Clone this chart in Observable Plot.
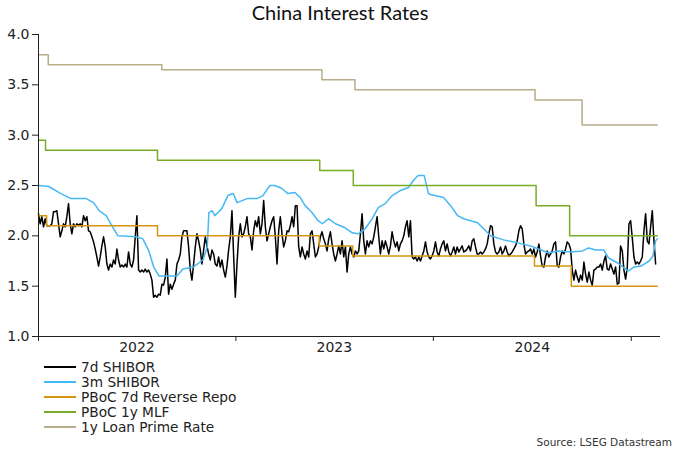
<!DOCTYPE html>
<html><head><meta charset="utf-8">
<script src="https://cdn.jsdelivr.net/npm/d3@7"></script>
<script src="https://cdn.jsdelivr.net/npm/@observablehq/plot@0.6"></script>
<style>
body{margin:0;background:#fff;width:680px;height:453px;overflow:hidden;font-family:"DejaVu Sans",sans-serif;color:#222;position:relative}
#title{height:24px;line-height:24px;text-align:center;font-family:Lato,sans-serif;font-size:20px;color:#111}
#chart{height:336px}
#legend{position:absolute;left:44px;top:360px;font-size:13.7px}
.row{height:14.8px;display:flex;align-items:center;white-space:nowrap}
.sw{width:32px;height:2px;margin-right:5px}
#source{position:absolute;right:8px;top:436px;font-size:10.5px;color:#333}
</style></head>
<body>
<div id="title">China Interest Rates</div>
<div id="chart"></div>
<div id="legend"></div>
<div id="source">Source: LSEG Datastream</div>
<script>
// ---- Series names and colours ----
const seriesNames = ["7d SHIBOR", "3m SHIBOR", "PBoC 7d Reverse Repo", "PBoC 1y MLF", "1y Loan Prime Rate"];
const seriesColors = ["#000000", "#45b8f5", "#d4960f", "#7aab24", "#b8ad8a"];

// ---- 7d SHIBOR: regularly spaced observations from start to end date ----
const shibor7dStart = "2022-01-01";
const shibor7dEnd = "2025-02-15";
const shibor7d = [
2.22,2.12,2.19,2.09,2.17,2.10,2.10,2.10,2.12,2.24,
2.24,2.25,2.12,1.99,2.05,2.12,2.09,2.19,2.32,2.12,
2.02,2.12,2.09,2.12,2.10,2.12,2.09,2.20,2.15,2.19,
2.05,2.04,1.99,1.94,1.87,1.79,1.70,1.79,1.90,1.99,
1.89,1.72,1.66,1.72,1.69,1.76,1.72,1.87,1.76,1.69,
1.71,1.69,1.72,1.69,1.84,1.72,1.69,1.76,1.99,2.20,
1.66,1.64,1.66,1.64,1.67,1.64,1.66,1.62,1.56,1.39,
1.41,1.39,1.42,1.41,1.52,1.51,1.59,
1.77,1.42,1.52,1.47,1.52,1.56,1.72,1.76,1.82,1.99,
2.05,2.05,2.05,1.89,1.66,1.56,1.72,1.89,2.02,1.95,
1.86,1.72,1.86,1.99,1.90,1.82,1.76,1.86,1.82,1.72,
1.70,1.79,1.69,1.76,1.66,1.59,1.70,1.86,1.99,2.25,
1.80,1.39,1.72,1.99,2.12,1.99,2.02,2.09,2.19,2.02,
1.99,1.86,2.05,2.15,2.09,2.19,2.02,2.12,2.35,2.09,
1.95,2.02,2.09,2.15,2.19,1.99,1.72,2.05,2.19,2.02,
1.89,1.95,2.05,
2.04,2.10,2.19,2.09,2.30,2.30,1.89,1.79,1.89,1.82,
1.77,1.85,1.79,2.02,2.05,1.92,1.79,1.82,1.89,1.99,
2.04,1.97,1.92,1.85,1.97,2.04,1.92,1.82,1.75,1.82,
1.90,1.82,1.95,1.79,1.89,1.64,1.82,1.89,1.82,1.79,
1.85,1.82,1.85,2.02,2.22,1.95,1.82,1.95,1.89,1.95,
1.92,1.99,2.09,2.19,1.99,1.82,1.95,1.87,1.95,1.89,
1.82,1.90,2.04,1.95,1.89,1.94,1.85,1.92,1.95,2.00,
2.09,2.15,1.99,
2.15,1.79,1.77,1.79,1.75,1.79,1.75,1.80,1.85,1.94,
1.84,1.79,1.77,1.80,1.85,1.94,1.84,1.80,1.87,1.92,
1.95,1.85,1.92,1.84,1.80,1.84,1.89,1.82,1.89,1.84,
1.87,1.90,1.84,1.85,1.87,1.90,1.85,1.95,1.97,1.89,
1.82,1.82,1.84,1.82,1.84,1.87,1.92,2.02,2.10,2.09,
1.92,1.84,1.82,1.84,1.89,1.82,1.85,1.90,1.84,1.80,
1.82,1.84,1.87,1.90,1.95,2.05,2.10,2.07,1.92,1.82,
1.84,1.85,
1.87,1.82,1.87,1.79,1.84,1.92,1.80,1.70,1.69,1.79,
1.85,1.79,1.82,1.85,1.92,1.94,1.70,1.69,1.79,1.85,
1.82,1.87,1.94,1.92,1.87,1.66,1.56,1.66,1.59,1.54,
1.61,1.56,1.74,1.62,1.54,1.64,1.56,1.51,1.66,1.67,
1.69,1.69,1.72,1.66,1.75,1.80,1.67,1.66,1.72,1.67,
1.62,1.69,1.52,1.53,1.90,1.85,1.66,1.57,1.69,2.12,
2.15,1.98,1.79,1.72,1.74,1.72,1.75,1.79,2.05,2.22,
1.95,1.92,2.09,2.25,1.95,1.72
];

// ---- 3m SHIBOR ----
const shibor3mDates = [
"2022-01-01","2022-01-20","2022-02-08","2022-03-02","2022-03-30","2022-04-13","2022-04-23","2022-05-06",
"2022-05-19","2022-05-28","2022-06-30","2022-07-13","2022-07-24","2022-08-02","2022-08-12","2022-09-14",
"2022-09-25","2022-10-14","2022-11-01","2022-11-09","2022-11-12","2022-11-18","2022-11-23","2022-12-06",
"2022-12-17","2022-12-27","2023-01-03","2023-01-22","2023-02-09","2023-02-20","2023-03-05","2023-03-14",
"2023-03-27","2023-04-07","2023-04-20","2023-04-30","2023-05-09","2023-05-22","2023-06-02","2023-06-10",
"2023-06-21","2023-07-04","2023-07-22","2023-08-04","2023-08-15","2023-08-28","2023-09-10","2023-09-21",
"2023-10-04","2023-10-17","2023-11-01","2023-11-16","2023-11-25","2023-12-04","2023-12-15","2023-12-23",
"2023-12-27","2024-01-20","2024-02-02","2024-02-15","2024-02-26","2024-03-23","2024-04-03","2024-04-16",
"2024-05-10","2024-06-05","2024-06-29","2024-07-23","2024-08-01","2024-08-18","2024-09-11","2024-10-03",
"2024-10-14","2024-10-27","2024-11-11","2024-11-20","2024-12-07","2024-12-26","2025-01-06","2025-01-19",
"2025-02-03","2025-02-10","2025-02-15","2025-02-18"];
const shibor3mValues = [
2.50,2.49,2.43,2.37,2.37,2.33,2.25,2.20,
2.08,2.00,1.99,1.97,1.85,1.69,1.60,1.60,
1.67,1.69,1.76,1.89,2.23,2.25,2.20,2.27,
2.40,2.42,2.33,2.37,2.37,2.40,2.50,2.50,
2.47,2.42,2.43,2.38,2.30,2.23,2.15,2.12,
2.17,2.12,2.08,2.03,2.02,2.07,2.17,2.28,
2.32,2.40,2.45,2.48,2.55,2.60,2.60,2.42,
2.41,2.38,2.30,2.20,2.17,2.13,2.07,2.00,
1.96,1.93,1.90,1.85,1.83,1.85,1.84,1.85,
1.88,1.86,1.86,1.78,1.73,1.65,1.69,1.70,
1.75,1.80,1.95,1.97];

// ---- Policy rates (change dates as plotted, and levels) ----
const repoDates = ["2022-01-01","2022-01-16","2022-08-09","2023-06-04","2023-08-05","2024-07-06","2024-09-12"];
const repoValues = [2.20,2.10,2.00,1.90,1.80,1.70,1.50];
const mlfDates = ["2022-01-01","2022-01-14","2022-08-09","2023-06-05","2023-08-06","2024-07-09","2024-09-09"];
const mlfValues = [2.95,2.85,2.75,2.65,2.50,2.30,2.00];
const lprDates = ["2022-01-01","2022-01-19","2022-08-17","2023-06-09","2023-08-09","2024-07-07","2024-10-02"];
const lprValues = [3.80,3.70,3.65,3.55,3.45,3.35,3.10];
const policyEnd = "2025-02-18";

// ---- Axis ticks ----
const yTicks = [1.0,1.5,2.0,2.5,3.0,3.5,4.0];
const yearTicks = ["2022-01-01","2023-01-01","2024-01-01","2025-01-01"];
const yearLabels = ["2022-07-02","2023-07-02","2024-07-02"];
const xDomain = ["2022-01-01","2025-02-24"];

// ---- Build tables ----
const t0 = new Date(shibor7dStart), t1 = new Date(shibor7dEnd);
const n7 = shibor7d.length;
const data7d = shibor7d.map((v,i)=>({date:new Date(+t0 + (t1-t0)*i/(n7-1)), value:v}));
const data3m = shibor3mDates.map((d,i)=>({date:new Date(d), value:shibor3mValues[i]}));
function steps(dates, values){
  const out = dates.map((d,i)=>({date:new Date(d), value:values[i]}));
  out.push({date:new Date(policyEnd), value:values[values.length-1]});
  return out;
}
const dataRepo = steps(repoDates, repoValues);
const dataMlf = steps(mlfDates, mlfValues);
const dataLpr = steps(lprDates, lprValues);

const sw = 1.5;
const chart = Plot.plot({
  width: 680,
  height: 336,
  marginTop: 10,
  marginBottom: 24,
  marginLeft: 38,
  marginRight: 20,
  style: {fontFamily: "DejaVu Sans, sans-serif", fontSize: "14px", color: "#222", background: "#fff"},
  x: {type: "utc", domain: xDomain.map(d=>new Date(d)), label: null},
  y: {domain: [1, 4], label: null},
  marks: [
    Plot.line(data7d, {x:"date", y:"value", stroke: seriesColors[0], strokeWidth: sw}),
    Plot.line(data3m, {x:"date", y:"value", stroke: seriesColors[1], strokeWidth: sw}),
    Plot.line(dataRepo, {x:"date", y:"value", curve:"step-after", stroke: seriesColors[2], strokeWidth: sw}),
    Plot.line(dataMlf, {x:"date", y:"value", curve:"step-after", stroke: seriesColors[3], strokeWidth: sw}),
    Plot.line(dataLpr, {x:"date", y:"value", curve:"step-after", stroke: seriesColors[4], strokeWidth: sw}),
    Plot.axisY({ticks: yTicks, tickFormat: d3.format(".1f"), tickSize: 6, tickPadding: 3, stroke: "#222"}),
    Plot.axisX({ticks: yearTicks.map(d=>new Date(d)), tickFormat: () => "", tickSize: 5, stroke: "#222"}),
    Plot.axisX({ticks: yearLabels.map(d=>new Date(d)), tickFormat: d3.utcFormat("%Y"), tickSize: 0, tickPadding: 6}),
    Plot.ruleY([1], {stroke: "#222"}),
    Plot.ruleX([new Date(xDomain[0])], {stroke: "#222"})
  ]
});
document.getElementById("chart").appendChild(chart);

const legend = document.getElementById("legend");
seriesNames.forEach((name,i)=>{
  const row = document.createElement("div");
  row.className = "row";
  const s = document.createElement("span");
  s.className = "sw";
  s.style.background = seriesColors[i];
  const t = document.createElement("span");
  t.textContent = name;
  row.appendChild(s); row.appendChild(t);
  legend.appendChild(row);
});
</script>
</body></html>
